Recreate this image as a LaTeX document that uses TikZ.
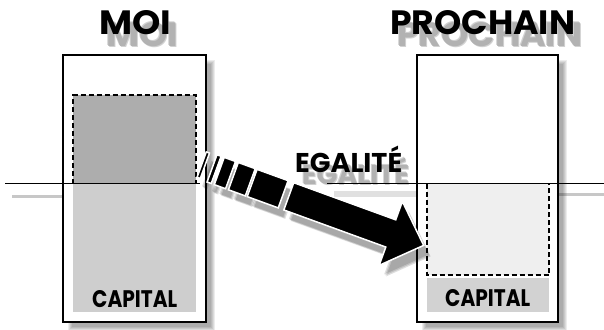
\documentclass[tikz,border=0pt]{standalone}
\usepackage{fontspec}
\setmainfont{Poppins}
\usepackage{graphicx}
\definecolor{fillDark}{HTML}{ADADAD}
\definecolor{fillMid}{HTML}{CECECE}
\definecolor{fillLight}{HTML}{EFEFEF}
\definecolor{fillBand}{HTML}{D2D2D2}
\newcommand\egalarrow[2]{%
  \begin{scope}[shift={#1}, rotate=-20]
    \path[#2] (1.8,-13.5) rectangle (5.2,13.5);
    \path[#2] (12.8,-14.5) rectangle (17.2,14.5);
    \path[#2] (20.5,-14.5) rectangle (32.5,14.5);
    \path[#2] (35.5,-14.5) rectangle (53.5,14.5);
    \path[#2] (55.5,-14.5) rectangle (88.5,14.5);
    \path[#2] (94.5,-14.5) -- (203,-14.5) -- (203,-34) -- (238,0) -- (203,34) -- (203,14.5) -- (94.5,14.5) -- cycle;
  \end{scope}}
\newcommand\softbox[4]{%
  \foreach \i in {0,...,4} {
    \fill[black, opacity=0.075] (#1-2+\i,#2-2+\i) rectangle (#3+2-\i,#4+2-\i);
  }}
\begin{document}
\begin{tikzpicture}[x=1pt,y=-1pt]
\tikzset{
  frame/.style={draw=black, line width=1.2pt, fill=white},
  dashbox/.style={draw=black, line width=1.1pt, dash pattern=on 5pt off 3pt},
  level/.style={draw=black, line width=1.6pt},
  levelshadow/.style={draw=black!22, line width=3pt},
  title/.style={inner sep=0pt, anchor=south west, font=\bfseries},
  arrowmain/.style={fill=black, draw=white, line width=1.5pt, line join=miter},
  arrowshade/.style={fill=black, opacity=0.13},
}
\useasboundingbox[fill=white] (0,0) rectangle (604,329);

% named coordinates
\coordinate (LnW) at (5,183.5);
\coordinate (LnA) at (200,183.5);
\coordinate (LnB) at (327,183.5);
\coordinate (LnE) at (604,183.5);

% shadows of the level line
\draw[levelshadow] (12,196) -- (63,196);
\draw[black!12, line width=6pt] (334,194) -- (417,194);
\draw[levelshadow] (558,194) -- (604,194);

% box shadows
\softbox{70}{62}{213}{329}
\softbox{424}{62}{565}{329}

% title shadows (soft reflection)
\foreach \dx/\dy/\c in {6/11/black!18, 8/13/black!18, 7/12/black!30} {
  \node[title, text=\c] at (99+\dx,35+\dy) {\resizebox{72pt}{24pt}{MOI}};
  \node[title, text=\c] at (390+\dx,35+\dy) {\resizebox{185pt}{24pt}{PROCHAIN}};
  \node[title, text=\c] at (295+\dx,173+\dy) {\resizebox{107pt}{!}{EGALITÉ}};
}

% left box
\draw[frame] (63,55) rectangle (206,322);
\fill[fillMid] (73,183.5) rectangle (196,312);
\fill[fillDark] (73,95) rectangle (196,183.5);
\draw[dashbox] (73,183.5) -- (73,95) -- (196,95) -- (196,183.5);
\node[title] (capL) at (92,308) {\resizebox{85pt}{17pt}{CAPITAL}};

% right box
\draw[frame] (417,55) rectangle (558,322);
\fill[fillLight] (427,183.5) rectangle (549,275);
\draw[dashbox] (427,183.5) -- (427,275) -- (549,275) -- (549,183.5);
\fill[fillBand] (427,278) rectangle (549,312);
\node[title] (capR) at (445,307) {\resizebox{85pt}{17pt}{CAPITAL}};

% level line
\draw[level] (LnW) -- (LnA);
\draw[level] (LnB) -- (LnE);

% titles
\node[title] (moi) at (99,35) {\resizebox{72pt}{24pt}{MOI}};
\node[title] (prochain) at (390,35) {\resizebox{185pt}{24pt}{PROCHAIN}};

% arrow shadow and arrow
\egalarrow{(205,173)}{arrowshade}
\egalarrow{(207,175)}{arrowshade}
\egalarrow{(206,174)}{arrowshade}
\egalarrow{(200,164)}{arrowmain}

\node[title] (egal) at (295,173) {\resizebox{107pt}{!}{EGALITÉ}};
\end{tikzpicture}
\end{document}
